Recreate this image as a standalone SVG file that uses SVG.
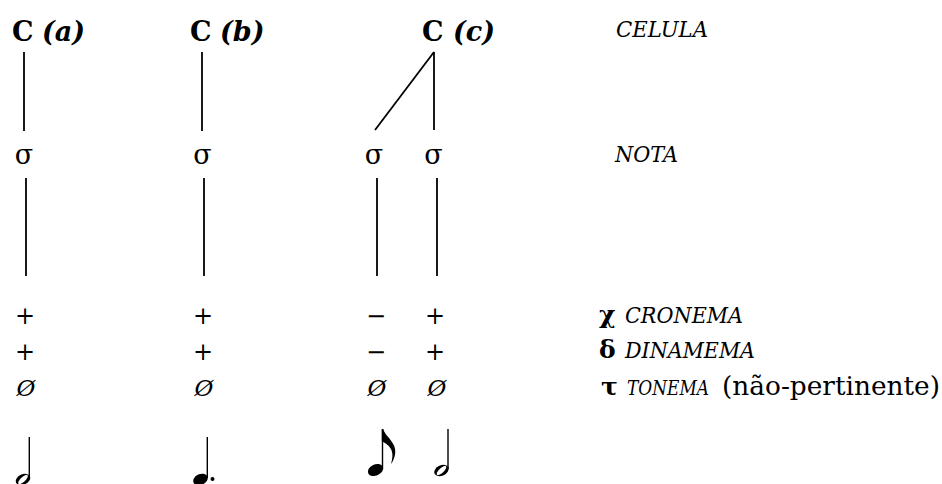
<svg xmlns="http://www.w3.org/2000/svg" width="942" height="484" viewBox="0 0 942 484">
  <style>
    text { font-family: 'DejaVu Serif', 'Liberation Serif', serif; fill: #000; }
    .cell { font-size: 27px; font-weight: bold; }
    .it { font-style: italic; }
    .sig { font-size: 27px; text-anchor: middle; }
    .sym { font-size: 24px; text-anchor: middle; }
    .nul { font-size: 23px; font-style: italic; text-anchor: middle; }
    .lbl { font-size: 22.5px; font-style: italic; }
    .gr { font-size: 25px; font-weight: bold; }
    .plain { font-size: 26px; }
    .edge { stroke: #000; stroke-width: 1.8; fill: none; }
    .ink { fill: #000; }
    .stem { stroke: #000; stroke-width: 1.4; }
  </style>

  <!-- connectors -->
  <g id="connectors">
    <line class="edge" x1="24" y1="52" x2="24" y2="131"/>
    <line class="edge" x1="202" y1="52" x2="202" y2="131"/>
    <line class="edge" x1="434" y1="52" x2="375" y2="130"/>
    <line class="edge" x1="434" y1="52" x2="434" y2="130"/>
    <line class="edge" x1="26" y1="178" x2="26" y2="276"/>
    <line class="edge" x1="204" y1="178" x2="204" y2="276"/>
    <line class="edge" x1="377" y1="178" x2="377" y2="276"/>
    <line class="edge" x1="437" y1="178" x2="437" y2="276"/>
  </g>

  <!-- cells -->
  <g id="cell-a"><text class="cell" y="41"><tspan x="12">C</tspan><tspan class="it" x="42">(a)</tspan></text></g>
  <g id="cell-b"><text class="cell" y="41"><tspan x="190">C</tspan><tspan class="it" x="220">(b)</tspan></text></g>
  <g id="cell-c"><text class="cell" y="41"><tspan x="422">C</tspan><tspan class="it" x="453">(c)</tspan></text></g>

  <!-- notes -->
  <g id="note-a"><text class="sig" x="24" y="164">σ</text></g>
  <g id="note-b"><text class="sig" x="202.5" y="164">σ</text></g>
  <g id="note-c1"><text class="sig" x="374" y="164">σ</text></g>
  <g id="note-c2"><text class="sig" x="433.5" y="164">σ</text></g>

  <!-- feature values -->
  <g id="values-a">
    <text class="sym" x="25" y="324">+</text>
    <text class="sym" x="25" y="360">+</text>
    <text class="nul" x="26" y="396">Ø</text>
  </g>
  <g id="values-b">
    <text class="sym" x="203" y="324">+</text>
    <text class="sym" x="203" y="360">+</text>
    <text class="nul" x="204" y="396">Ø</text>
  </g>
  <g id="values-c1">
    <text class="sym" x="376" y="324">−</text>
    <text class="sym" x="376" y="360">−</text>
    <text class="nul" x="377" y="396">Ø</text>
  </g>
  <g id="values-c2">
    <text class="sym" x="435" y="324">+</text>
    <text class="sym" x="435" y="360">+</text>
    <text class="nul" x="437" y="396">Ø</text>
  </g>

  <!-- level labels -->
  <g id="label-celula"><text class="lbl" x="616" y="37" textLength="92" lengthAdjust="spacingAndGlyphs">CELULA</text></g>
  <g id="label-nota"><text class="lbl" x="615" y="162" textLength="63" lengthAdjust="spacingAndGlyphs">NOTA</text></g>
  <g id="label-cronema">
    <text class="gr" x="599" y="323">χ</text>
    <text class="lbl" x="625" y="323" textLength="118" lengthAdjust="spacingAndGlyphs">CRONEMA</text>
  </g>
  <g id="label-dinamema">
    <text class="gr" x="599" y="358">δ</text>
    <text class="lbl" x="625" y="358" textLength="130" lengthAdjust="spacingAndGlyphs">DINAMEMA</text>
  </g>
  <g id="label-tonema">
    <text class="gr" x="601" y="395">τ</text>
    <text class="lbl" style="font-size:20px" x="627" y="395" textLength="82" lengthAdjust="spacingAndGlyphs">TONEMA</text>
    <text class="plain" x="722" y="395" textLength="218" lengthAdjust="spacingAndGlyphs">(não-pertinente)</text>
  </g>

  <!-- durations in notation -->
  <g id="dur-a">
    <line class="stem" x1="29.3" y1="437" x2="29.3" y2="478"/>
    <g transform="translate(23 479.5) rotate(-25)">
      <ellipse class="ink" rx="7.6" ry="5.2"/>
      <ellipse fill="#fff" rx="6.2" ry="2.3" transform="rotate(-18)"/>
    </g>
  </g>
  <g id="dur-b">
    <line class="stem" x1="207.3" y1="437" x2="207.3" y2="478"/>
    <ellipse class="ink" transform="translate(200.5 479.5) rotate(-25)" rx="7.6" ry="5.4"/>
    <circle class="ink" cx="212.5" cy="479" r="2"/>
  </g>
  <g id="dur-c1">
    <line class="stem" x1="382.5" y1="429" x2="382.5" y2="469"/>
    <ellipse class="ink" transform="translate(375.5 470) rotate(-25)" rx="8" ry="5.6"/>
    <path class="ink" d="M381.8,429 L383.3,429 C384.5,436 396.5,442 395.2,453 C394.7,457.5 393.2,461 391,464 C392.3,459 393.2,455 391.6,450.5 C389.8,445.5 385,443 381.8,441 Z"/>
  </g>
  <g id="dur-c2">
    <line class="stem" x1="448" y1="429" x2="448" y2="469"/>
    <g transform="translate(441.5 470.5) rotate(-25)">
      <ellipse class="ink" rx="7.6" ry="5.2"/>
      <ellipse fill="#fff" rx="6.2" ry="2.3" transform="rotate(-18)"/>
    </g>
  </g>
</svg>
